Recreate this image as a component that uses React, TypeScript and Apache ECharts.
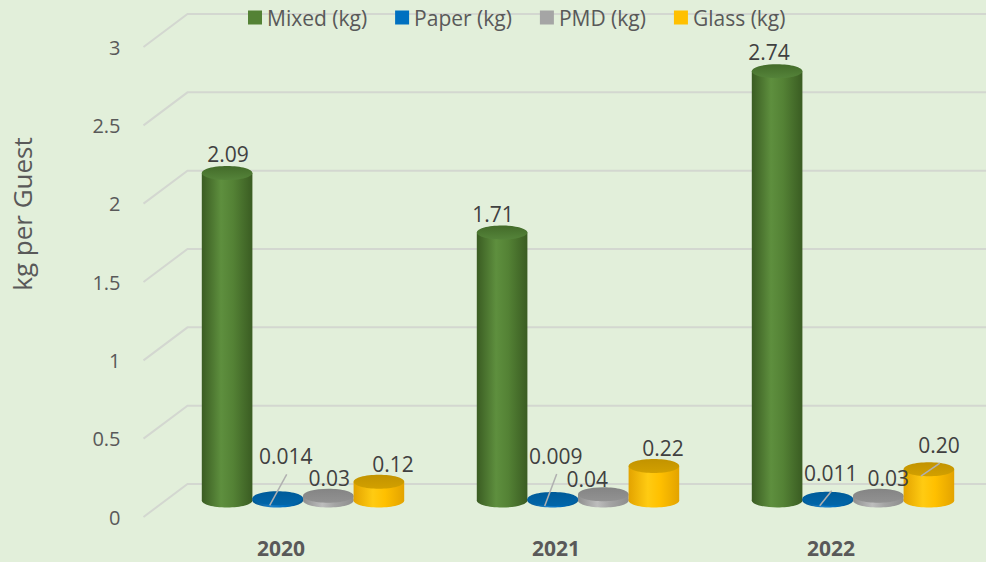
import React, { useEffect, useRef } from "react";
import * as echarts from "echarts";

// ---------- data ----------
const years = ["2020", "2021", "2022"];
const seriesNames = ["Mixed (kg)", "Paper (kg)", "PMD (kg)", "Glass (kg)"];
const mixed = [2.09, 1.71, 2.74];
const paper = [0.014, 0.009, 0.011];
const pmd = [0.03, 0.04, 0.03];
const glass = [0.12, 0.22, 0.2];
const yTicks = [0, 0.5, 1, 1.5, 2, 2.5, 3];
const decimals = [2, 3, 2, 2];

// ---------- style ----------
const FONT = '"Open Sans", "Noto Sans", sans-serif';
const DEPTH_X = 44; // back-plane shift (px)
const DEPTH_Y = -33;
const RY = 7;
const palette = [
  { flat: "#548235", edge: "#3A5C22", light: "#5E8F3E", topA: "#436B29", topB: "#55843A" },
  { flat: "#0070C0", edge: "#00558F", light: "#1A7FC8", topA: "#005B99", topB: "#0066AA" },
  { flat: "#A5A5A5", edge: "#8E8E8E", light: "#BDBDBD", topA: "#848484", topB: "#929292" },
  { flat: "#FFC000", edge: "#E3A300", light: "#FFCB12", topA: "#C29300", topB: "#D2A000" },
];
// label nudges [dx, dy] per series, per year
const labelNudge = [
  [[1, 0], [-9, 0], [-8, 0]],
  [[8, -23], [3, -24], [3, -7]],
  [[1, 1], [-16, 4], [10, 1]],
  [[14, 1], [9, 1], [10, -5]],
];
const leader = [
  [false, false, false],
  [true, true, true],
  [false, false, false],
  [false, false, true],
];

const allValues = [mixed, paper, pmd, glass];

function makeBarRenderer(si: number) {
  return (params: any, api: any) => {
    const ci = api.value(0);
    const v = api.value(1);
    const base = api.coord([ci, 0]);
    const topP = api.coord([ci, v]);
    const band = api.size([1, 0])[0];
    const w = band * 0.184;
    const cx = base[0] + DEPTH_X / 2 + (si - 1.5) * w;
    const by = base[1] + DEPTH_Y / 2;
    const ty = topP[1] + DEPTH_Y / 2;
    const rx = w / 2;
    const c = palette[si];
    const bodyGrad = new echarts.graphic.LinearGradient(0, 0, 1, 0, [
      { offset: 0, color: c.edge },
      { offset: 0.38, color: c.light },
      { offset: 0.62, color: c.flat },
      { offset: 1, color: c.edge },
    ]);
    const topGrad = new echarts.graphic.LinearGradient(0, 0, 0, 1, [
      { offset: 0, color: c.topA },
      { offset: 1, color: c.topB },
    ]);
    const [dx, dy] = labelNudge[si][ci];
    const lx = cx + dx;
    const ly = ty - 19 + dy;
    const children: any[] = [
      { type: "ellipse", shape: { cx, cy: by, rx, ry: RY }, style: { fill: bodyGrad } },
      { type: "rect", shape: { x: cx - rx, y: ty, width: w, height: Math.max(0, by - ty) }, style: { fill: bodyGrad } },
      { type: "ellipse", shape: { cx, cy: ty, rx, ry: RY }, style: { fill: topGrad } },
      {
        type: "text",
        x: lx,
        y: ly,
        z2: 100,
        style: {
          text: v.toFixed(decimals[si]),
          fill: "#404040",
          font: `21px ${FONT}`,
          lineHeight: 16,
          align: "center",
          verticalAlign: "middle",
        },
      },
    ];
    if (leader[si][ci]) {
      children.push({
        type: "line",
        z2: 99,
        shape: { x1: lx + 1, y1: ly + 18, x2: cx - 8, y2: ty + 7 },
        style: { stroke: "#B0B0B0", lineWidth: 1.5 },
      });
    }
    return { type: "group", children };
  };
}

export default function App() {
  const ref = useRef<HTMLDivElement>(null);
  useEffect(() => {
    if (!ref.current) return;
    const chart = echarts.init(ref.current, undefined, { renderer: "svg" });
    const barSeries = seriesNames.map((name, si) => ({
      type: "custom",
      name,
      data: years.map((_, i) => [i, allValues[si][i]]),
      encode: { x: 0, y: 1 },
      renderItem: makeBarRenderer(si),
      itemStyle: { color: palette[si].flat },
      clip: false,
      z: 3,
    }));
    chart.setOption({
      animation: false,
      backgroundColor: "#E2EFDA",
      textStyle: { fontFamily: FONT },
      legend: {
        data: seriesNames,
        left: 248,
        top: 7,
        padding: 0,
        itemWidth: 14,
        itemHeight: 14,
        itemGap: 28,
        icon: "rect",
        textStyle: { color: "#595959", fontSize: 21, fontFamily: FONT },
      },
      grid: { left: 143.5, right: 17.5, top: 47, bottom: 45 },
      xAxis: {
        type: "category",
        data: years,
        axisLine: { show: false },
        axisTick: { show: false },
        axisLabel: {
          margin: 23,
          color: "#595959",
          fontWeight: "bold",
          fontSize: 21,
          lineHeight: 15,
          fontFamily: FONT,
        },
      },
      yAxis: {
        type: "value",
        min: 0,
        max: 3,
        interval: 0.5,
        splitLine: { show: false },
        axisLine: { show: false },
        axisTick: { show: false },
        axisLabel: { margin: 23, color: "#595959", fontSize: 20, fontFamily: FONT },
      },
      graphic: [
        {
          type: "text",
          x: 22,
          y: 214,
          rotation: Math.PI / 2,
          style: {
            text: "kg per Guest",
            font: `26px ${FONT}`,
            fill: "#595959",
            align: "center",
            verticalAlign: "middle",
          },
        },
      ],
      series: [
        {
          type: "custom",
          name: "grid",
          silent: true,
          z: 1,
          clip: false,
          data: yTicks.map((t) => [0, t]),
          encode: { x: 0, y: 1 },
          renderItem: (params: any, api: any) => {
            const y = api.coord([0, api.value(1)])[1];
            const x0 = params.coordSys.x;
            return {
              type: "polyline",
              shape: {
                points: [
                  [x0, y],
                  [x0 + DEPTH_X, y + DEPTH_Y],
                  [api.getWidth(), y + DEPTH_Y],
                ],
              },
              style: { stroke: "#D3D7D0", lineWidth: 2, fill: null },
            };
          },
        },
        ...barSeries,
      ],
    });
    return () => chart.dispose();
  }, []);
  return (
    <div
      ref={ref}
      style={{ position: "fixed", left: 0, top: 0, width: 986, height: 562 }}
    />
  );
}
